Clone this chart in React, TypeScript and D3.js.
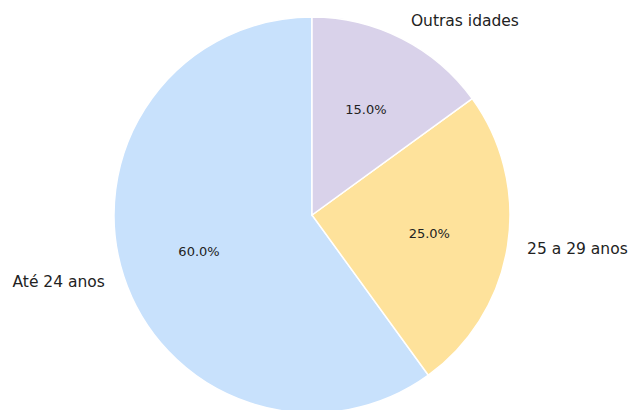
import React from "react";
import * as d3 from "d3";

const categories = ["Até 24 anos", "25 a 29 anos", "Outras idades"];
const values = [60, 25, 15];
const colors = ["#c8e1fc", "#fee29b", "#d9d2ea"];

const W = 628;
const H = 410;
const CX = 312;
const CY = 215;
const R = 198;

export default function App() {
  const total = d3.sum(values);
  // matplotlib style: start at 90deg, counterclockwise
  const pie = d3
    .pie<number>()
    .sort(null)
    .startAngle(0)
    .endAngle(-2 * Math.PI)
    .value((d) => d);
  const arcs = pie(values);
  const arcGen = d3.arc<d3.PieArcDatum<number>>().innerRadius(0).outerRadius(R);

  return (
    <svg
      width={W}
      height={H}
      style={{ position: "absolute", left: 0, top: 0, background: "#fff" }}
      fontFamily="DejaVu Sans, sans-serif"
    >
      <g transform={`translate(${CX},${CY})`}>
        {arcs.map((a, i) => (
          <path key={i} d={arcGen(a) || ""} fill={colors[i]} stroke="#fff" strokeWidth={1.5} />
        ))}
        {arcs.map((a, i) => {
          const mid = (a.startAngle + a.endAngle) / 2;
          const sx = Math.sin(mid);
          const sy = -Math.cos(mid);
          const lx = sx * R * 1.1;
          const ly = sy * R * 1.1;
          const px = sx * R * 0.6;
          const py = sy * R * 0.6;
          return (
            <g key={"t" + i}>
              <text
                x={lx}
                y={ly}
                fontSize={15.5}
                fill="#222"
                textAnchor={sx > 0 ? "start" : "end"}
                dominantBaseline="central"
              >
                {categories[i]}
              </text>
              <text
                x={px}
                y={py}
                fontSize={13}
                fill="#222"
                textAnchor="middle"
                dominantBaseline="central"
              >
                {((values[i] / total) * 100).toFixed(1) + "%"}
              </text>
            </g>
          );
        })}
      </g>
    </svg>
  );
}
